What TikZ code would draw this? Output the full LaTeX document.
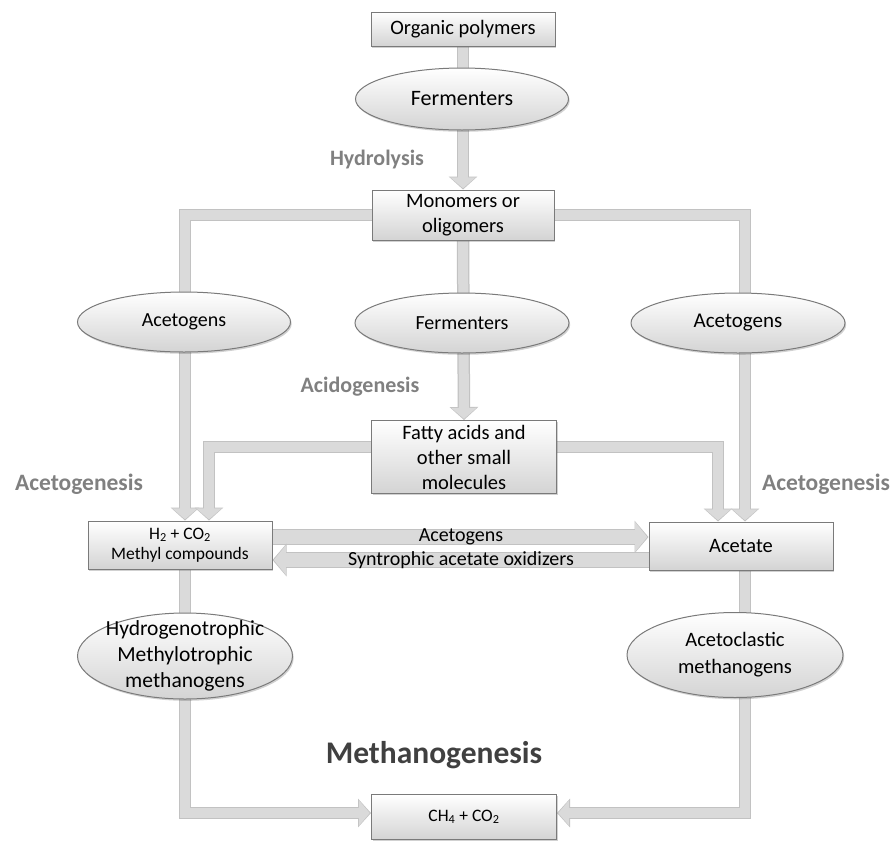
\documentclass[tikz,border=0pt]{standalone}
\usepackage{fontspec}
\setmainfont{Carlito}
\usetikzlibrary{arrows.meta,shadows,shapes.geometric}
\pgfdeclarelayer{bg}
\pgfsetlayers{bg,main}
\definecolor{band}{HTML}{DADADA}
\definecolor{bandedge}{HTML}{C2C2C2}
\definecolor{lbl}{HTML}{808080}
\definecolor{edge}{HTML}{7A7A7A}
\definecolor{dark}{HTML}{404040}
\tikzset{
  shade/.style={drop shadow={shadow xshift=1.2pt,shadow yshift=-1.8pt,opacity=0.3,fill=black!60}},
  boxn/.style={rectangle,draw=edge,line width=1pt,top color=white,bottom color=black!17,
    inner sep=0pt,align=center,shade,font=\fontsize{20.5}{25}\selectfont},
  elln/.style={ellipse,draw=edge,line width=1pt,top color=white,bottom color=black!17,
    inner sep=0pt,shade},
  lblt/.style={text=lbl,font=\bfseries\fontsize{22}{26}\selectfont},
  bandout/.style={line width=12.5pt,draw=bandedge,line join=miter,-{Triangle[width=28pt,length=13pt]}},
  bandin/.style={line width=10pt,draw=band,line join=miter,shorten >=1.2pt,-{Triangle[width=25pt,length=11pt]}},
  wideout/.style={line width=16pt,draw=bandedge,-{Triangle[width=32pt,length=14pt]}},
  widein/.style={line width=13.5pt,draw=band,shorten >=1.3pt,-{Triangle[width=29pt,length=12pt]}},
}
\newcommand{\bandarrow}[1]{\draw[bandout] #1; \draw[bandin] #1;}
\newcommand{\widearrow}[1]{\draw[wideout] #1; \draw[widein] #1;}
\begin{document}
\begin{tikzpicture}[x=1pt,y=-1pt]
\useasboundingbox (0,0) rectangle (896,844);

% boxes
\node[boxn,minimum width=184pt,minimum height=34pt] (op) at (463,29) {Organic polymers};
\node[boxn,minimum width=182pt,minimum height=50pt] (mono) at (463,215) {Monomers or\\oligomers};
\node[boxn,minimum width=185pt,minimum height=73pt] (fa) at (464,457) {Fatty acids and\\other small\\molecules};
\node[boxn,minimum width=184pt,minimum height=48pt,font=\fontsize{17.5}{20.5}\selectfont] (h2) at (180,545) {H\textsubscript{2} + CO\textsubscript{2}\\Methyl compounds};
\node[boxn,minimum width=184pt,minimum height=48pt] (acet) at (741,546) {Acetate};
\node[boxn,minimum width=185pt,minimum height=45pt,font=\fontsize{17.5}{20.5}\selectfont] (ch4) at (464,817) {CH\textsubscript{4} + CO\textsubscript{2}};

% ellipses
\node[elln,minimum width=213pt,minimum height=62pt,label={[font=\fontsize{22}{26}\selectfont]center:Fermenters}] (f1) at (462,99) {};
\node[elln,minimum width=213pt,minimum height=60pt,label={[font=\fontsize{20}{24}\selectfont]center:Acetogens}] (acl) at (184,322) {};
\node[elln,minimum width=214pt,minimum height=60pt,label={[font=\fontsize{20}{24}\selectfont]center:Fermenters}] (f2) at (462,323) {};
\node[elln,minimum width=214pt,minimum height=60pt,label={[font=\fontsize{21}{24}\selectfont]center:Acetogens}] (acr) at (738,323) {};
\node[elln,minimum width=215pt,minimum height=86pt,label={[font=\fontsize{21.5}{26}\selectfont,align=center]center:Hydrogenotrophic\\Methylotrophic\\methanogens}] (hyd) at (185,656) {};
\node[elln,minimum width=216pt,minimum height=85pt,label={[font=\fontsize{20.5}{27}\selectfont,align=center]center:Acetoclastic\\methanogens}] (aclm) at (735,655) {};

% stage labels
\node[lblt] (hydro) at (377,160) {Hydrolysis};
\node[lblt] (acido) at (360,387) {Acidogenesis};
\node[lblt,font=\bfseries\fontsize{23.5}{27}\selectfont] (acetoL) at (79,484) {Acetogenesis};
\node[lblt,font=\bfseries\fontsize{23.5}{27}\selectfont] (acetoR) at (826,484) {Acetogenesis};
\node[text=dark,font=\bfseries\fontsize{31.5}{36}\selectfont] (meth) at (434,755) {Methanogenesis};

% bands
\begin{pgfonlayer}{bg}
\bandarrow{(op.south) -- (mono.north)}
\bandarrow{(mono.west) -| ([xshift=5pt]h2.north)}
\bandarrow{(mono.east) -| ([xshift=4pt]acet.north)}
\bandarrow{(mono.south) -- (fa.north)}
\bandarrow{([yshift=10pt]fa.west) -| ([xshift=29pt]h2.north)}
\bandarrow{([yshift=10pt]fa.east) -| ([xshift=-23pt]acet.north)}
\widearrow{([yshift=8pt]h2.east) -- ([yshift=8pt]h2.east -| acet.west)}
\widearrow{([yshift=-14pt]acet.west) -- ([yshift=-14pt]acet.west -| h2.east)}
\bandarrow{([xshift=5pt]h2.south) |- ([yshift=4pt]ch4.west)}
\bandarrow{([xshift=4pt]acet.south) |- ([yshift=4pt]ch4.east)}
\end{pgfonlayer}

\node[font=\fontsize{20}{24}\selectfont] (tacg) at (461,537) {Acetogens};
\node[font=\fontsize{20}{24}\selectfont] (tsyn) at (461,560) {Syntrophic acetate oxidizers};
\end{tikzpicture}
\end{document}
